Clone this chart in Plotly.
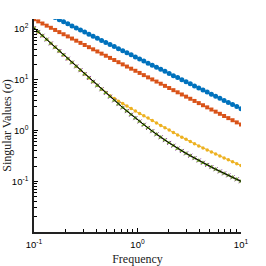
import plotly.graph_objects as go

freq = [0.1, 0.1099, 0.1207, 0.1326, 0.1456, 0.1600, 0.1758, 0.1931, 0.2121, 0.2330,
        0.2560, 0.2812, 0.3089, 0.3393, 0.3728, 0.4095, 0.4498, 0.4942, 0.5429, 0.5964,
        0.6551, 0.7197, 0.7906, 0.8685, 0.9541, 1.048, 1.151, 1.265, 1.389, 1.526,
        1.677, 1.842, 2.024, 2.223, 2.442, 2.683, 2.947, 3.237, 3.556, 3.907,
        4.292, 4.715, 5.179, 5.690, 6.251, 6.866, 7.543, 8.286, 9.103, 10.0]

sys1 = [270, 245.7, 223.7, 203.6, 185.4, 168.8, 153.6, 139.8, 127.3, 115.9,
        105.5, 96.0, 87.4, 79.6, 72.4, 65.9, 60.0, 54.6, 49.7, 45.3,
        41.2, 37.5, 34.2, 31.1, 28.3, 25.8, 23.5, 21.3, 19.4, 17.7,
        16.1, 14.7, 13.3, 12.1, 11.1, 10.1, 9.16, 8.34, 7.59, 6.91,
        6.29, 5.73, 5.21, 4.75, 4.32, 3.93, 3.58, 3.26, 2.97, 2.70]

sys2 = [157.0, 142.4, 129.2, 117.2, 106.3, 96.4, 87.4, 79.3, 71.9, 65.2,
        59.2, 53.6, 48.7, 44.1, 40.0, 36.3, 32.9, 29.9, 27.1, 24.6,
        22.3, 20.2, 18.3, 16.6, 15.1, 13.7, 12.4, 11.2, 10.2, 9.25,
        8.39, 7.61, 6.90, 6.26, 5.68, 5.15, 4.67, 4.24, 3.84, 3.48,
        3.16, 2.87, 2.60, 2.36, 2.14, 1.94, 1.76, 1.60, 1.45, 1.31]

sys3 = [104.7, 88.0, 74.0, 62.2, 52.2, 43.9, 36.9, 31.0, 26.1, 21.9,
        18.4, 15.5, 13.0, 10.9, 9.18, 7.73, 6.52, 5.64, 4.87, 4.31,
        3.80, 3.40, 3.04, 2.72, 2.42, 2.17, 1.96, 1.77, 1.58, 1.41,
        1.26, 1.137, 1.025, 0.918, 0.821, 0.742, 0.672, 0.607, 0.550, 0.499,
        0.455, 0.415, 0.378, 0.345, 0.315, 0.289, 0.265, 0.243, 0.2227, 0.204]

sys45 = [104.7, 88.0, 74.0, 62.2, 52.2, 43.9, 36.9, 31.0, 26.1, 21.9,
         18.4, 15.5, 13.0, 10.9, 9.18, 7.73, 6.52, 5.51, 4.65, 3.93,
         3.33, 2.84, 2.42, 2.06, 1.76, 1.51, 1.30, 1.127, 0.974, 0.842,
         0.736, 0.648, 0.571, 0.503, 0.443, 0.396, 0.355, 0.319, 0.286, 0.257,
         0.232, 0.210, 0.1905, 0.1726, 0.1564, 0.1429, 0.1307, 0.1196, 0.1093, 0.100]

x_ticks = [0.1, 1, 10]
x_ticklabels = ["10<sup>-1</sup>", "10<sup>0</sup>", "10<sup>1</sup>"]
y_ticks = [0.1, 1, 10, 100]
y_ticklabels = ["10<sup>-1</sup>", "10<sup>0</sup>", "10<sup>1</sup>", "10<sup>2</sup>"]

fig = go.Figure()
fig.add_trace(go.Scatter(x=freq, y=sys1, mode="lines+markers",
                         line=dict(color="#0072BD", width=1),
                         marker=dict(symbol="circle", size=5, color="#0072BD")))
fig.add_trace(go.Scatter(x=freq, y=sys2, mode="lines+markers",
                         line=dict(color="#D95319", width=1),
                         marker=dict(symbol="square", size=4, color="#D95319")))
fig.add_trace(go.Scatter(x=freq, y=sys3, mode="lines+markers",
                         line=dict(color="#EDB120", width=1),
                         marker=dict(symbol="circle", size=3.5, color="#EDB120")))
fig.add_trace(go.Scatter(x=freq, y=sys45, mode="lines+markers",
                         line=dict(color="#7E2F8E", width=1),
                         marker=dict(symbol="x-thin", size=4, color="#7E2F8E",
                                     line=dict(color="#7E2F8E", width=1))))
fig.add_trace(go.Scatter(x=freq, y=sys45, mode="lines+markers",
                         line=dict(color="#77AC30", width=1),
                         marker=dict(symbol="triangle-up", size=4.5, color="#77AC30")))
fig.add_trace(go.Scatter(x=freq, y=sys45, mode="lines",
                         line=dict(color="black", width=1)))

tickfont = dict(family="Liberation Sans, Arial", size=9.5, color="black")
titlefont = dict(family="Liberation Serif, DejaVu Serif", size=12, color="#222")

fig.update_layout(
    width=266, height=266,
    margin=dict(l=34, r=25, t=19, b=34),
    paper_bgcolor="white", plot_bgcolor="white",
    showlegend=False,
    xaxis=dict(type="log", range=[-1, 1], automargin=False,
               tickmode="array", tickvals=x_ticks, ticktext=x_ticklabels,
               ticks="inside", ticklen=4, tickwidth=1, tickcolor="black",
               ticklabelstandoff=3,
               minor=dict(ticks="inside", dtick="D1", ticklen=3, tickwidth=1,
                          tickcolor="black", showgrid=False),
               showline=True, linecolor="#222", linewidth=1.5,
               showgrid=False, zeroline=False, tickfont=tickfont,
               title=dict(text="Frequency", font=titlefont, standoff=5)),
    yaxis=dict(type="log", range=[-2, 2.2], automargin=False,
               tickmode="array", tickvals=y_ticks, ticktext=y_ticklabels,
               ticks="inside", ticklen=4, tickwidth=1, tickcolor="black",
               ticklabelstandoff=2,
               minor=dict(ticks="inside", dtick="D1", ticklen=3, tickwidth=1,
                          tickcolor="black", showgrid=False),
               showline=True, linecolor="#222", linewidth=1.5,
               showgrid=False, zeroline=False, tickfont=tickfont,
               title=dict(text="Singular Values (<i>σ</i>)", font=titlefont, standoff=0)),
)

fig.write_html("out.html", config={"displayModeBar": False},
               post_script="document.body.style.margin='0';")
